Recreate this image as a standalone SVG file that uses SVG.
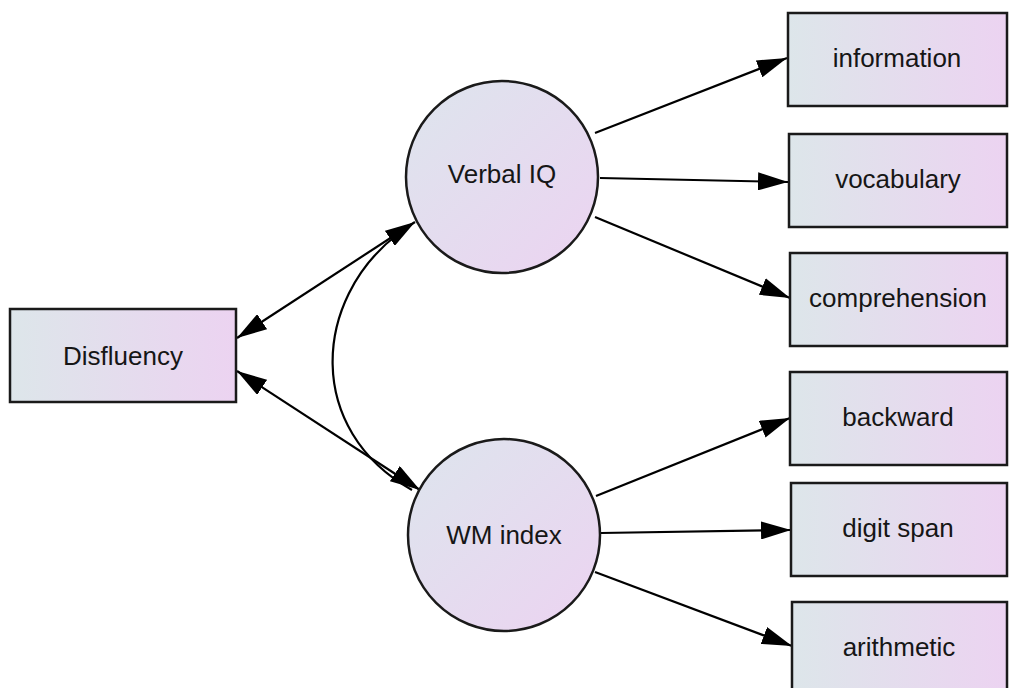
<svg xmlns="http://www.w3.org/2000/svg" width="1009" height="688" viewBox="0 0 1009 688">
<style>
.box{stroke:#1a1a1a;stroke-width:2.5;fill:url(#gb)}
.lat{stroke:#1a1a1a;stroke-width:2.5;fill:url(#gc)}
.lbl{font-family:"Liberation Sans",Arial,sans-serif;font-size:26px;fill:#161616;text-anchor:middle}
.edge{stroke:#000;stroke-width:2.2;fill:none}
</style>
<defs>
<linearGradient id="gb" x1="0" y1="0" x2="1" y2="0">
<stop offset="0" stop-color="#dde6ea"/>
<stop offset="1" stop-color="#ecd3f1"/>
</linearGradient>
<linearGradient id="gc" x1="0" y1="0" x2="1" y2="1">
<stop offset="0" stop-color="#dde5ed"/>
<stop offset="1" stop-color="#ecd3f1"/>
</linearGradient>
<marker id="ah" viewBox="0 0 30 18" refX="30" refY="9" markerWidth="30" markerHeight="18" markerUnits="userSpaceOnUse" orient="auto-start-reverse">
<path d="M0,0 L30,9 L0,18 Z" fill="#000"/>
</marker>
</defs>
<g id="connectors">
<line class="edge" x1="595" y1="133" x2="787" y2="58" marker-end="url(#ah)"/>
<line class="edge" x1="600" y1="178" x2="788" y2="182" marker-end="url(#ah)"/>
<line class="edge" x1="595" y1="217" x2="790" y2="298" marker-end="url(#ah)"/>
<line class="edge" x1="596" y1="496" x2="790" y2="418" marker-end="url(#ah)"/>
<line class="edge" x1="601" y1="533" x2="791" y2="530" marker-end="url(#ah)"/>
<line class="edge" x1="595" y1="572" x2="792" y2="646" marker-end="url(#ah)"/>
<line class="edge" x1="237" y1="338" x2="415" y2="222" marker-start="url(#ah)" marker-end="url(#ah)"/>
<line class="edge" x1="237" y1="371" x2="420" y2="490" marker-start="url(#ah)" marker-end="url(#ah)"/>
<path class="edge" d="M398,234 C312,300 305,430 412,490"/>
</g>
<g id="disfluency"><rect class="box" x="10" y="309" width="226" height="93"/><text class="lbl" x="123" y="365">Disfluency</text></g>
<g id="verbal-iq"><circle class="lat" cx="502" cy="177" r="96"/><text class="lbl" x="502" y="183">Verbal IQ</text></g>
<g id="wm-index"><circle class="lat" cx="504" cy="535" r="96"/><text class="lbl" x="504" y="544">WM index</text></g>
<g id="information"><rect class="box" x="788" y="13" width="219" height="93"/><text class="lbl" x="897" y="67">information</text></g>
<g id="vocabulary"><rect class="box" x="789" y="134" width="218" height="93"/><text class="lbl" x="898" y="188">vocabulary</text></g>
<g id="comprehension"><rect class="box" x="790" y="253" width="217" height="93"/><text class="lbl" x="898" y="307">comprehension</text></g>
<g id="backward"><rect class="box" x="790" y="372" width="217" height="93"/><text class="lbl" x="898" y="426">backward</text></g>
<g id="digit-span"><rect class="box" x="791" y="483" width="216" height="93"/><text class="lbl" x="898" y="537">digit span</text></g>
<g id="arithmetic"><rect class="box" x="792" y="602" width="215" height="93"/><text class="lbl" x="899" y="656">arithmetic</text></g>
</svg>
